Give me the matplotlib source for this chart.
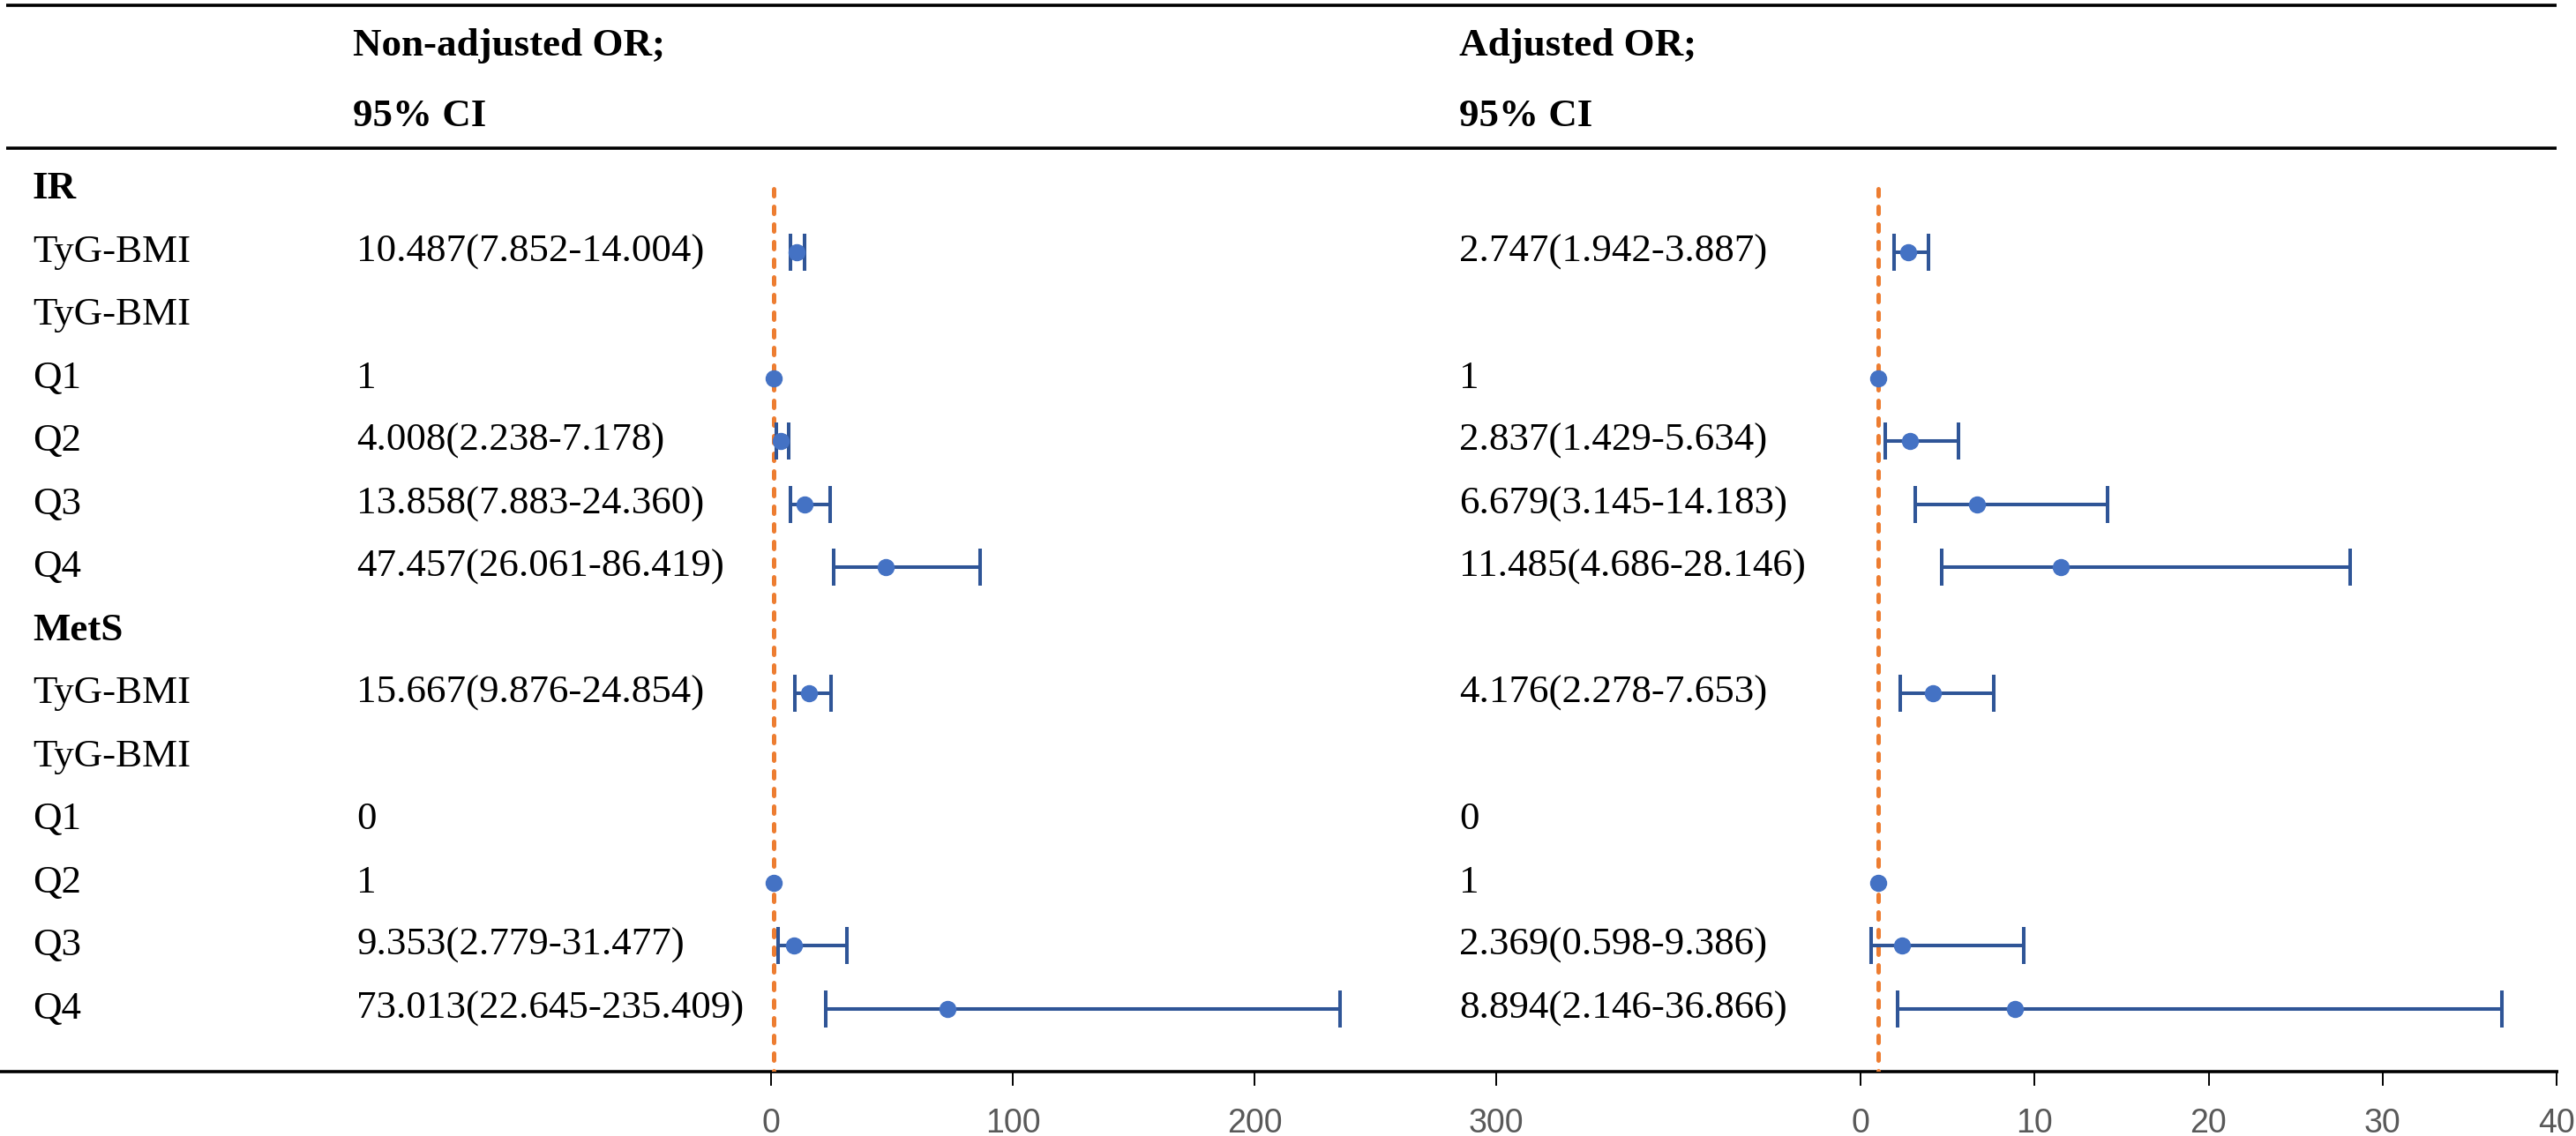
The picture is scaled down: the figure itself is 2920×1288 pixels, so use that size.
import numpy as np
import matplotlib.pyplot as plt

nan = np.nan

# --- data ---
row_labels = ["IR", "TyG-BMI", "TyG-BMI", "Q1", "Q2", "Q3", "Q4",
              "MetS", "TyG-BMI", "TyG-BMI", "Q1", "Q2", "Q3", "Q4"]
bold_rows = [0, 7]  # IR, MetS section headers

crude_text = ["", "10.487(7.852-14.004)", "", "1", "4.008(2.238-7.178)",
              "13.858(7.883-24.360)", "47.457(26.061-86.419)", "",
              "15.667(9.876-24.854)", "", "0", "1", "9.353(2.779-31.477)",
              "73.013(22.645-235.409)"]
adj_text = ["", "2.747(1.942-3.887)", "", "1", "2.837(1.429-5.634)",
            "6.679(3.145-14.183)", "11.485(4.686-28.146)", "",
            "4.176(2.278-7.653)", "", "0", "1", "2.369(0.598-9.386)",
            "8.894(2.146-36.866)"]

or_crude = [nan, 10.487, nan, 1, 4.008, 13.858, 47.457, nan, 15.667, nan, nan, 1, 9.353, 73.013]
lo_crude = [nan, 7.852, nan, nan, 2.238, 7.883, 26.061, nan, 9.876, nan, nan, nan, 2.779, 22.645]
hi_crude = [nan, 14.004, nan, nan, 7.178, 24.360, 86.419, nan, 24.854, nan, nan, nan, 31.477, 235.409]

or_adj = [nan, 2.747, nan, 1, 2.837, 6.679, 11.485, nan, 4.176, nan, nan, 1, 2.369, 8.894]
lo_adj = [nan, 1.942, nan, nan, 1.429, 3.145, 4.686, nan, 2.278, nan, nan, nan, 0.598, 2.146]
hi_adj = [nan, 3.887, nan, nan, 5.634, 14.183, 28.146, nan, 7.653, nan, nan, nan, 9.386, 36.866]

crude_ticks = [0, 100, 200, 300]
adj_ticks = [0, 10, 20, 30, 40]
ref_value = 1

# --- layout (pixels) ---
W, H = 2920, 1288
row0, row_step = 214, 71.5
base_y = 1215
top_y = 168

serif = "Liberation Serif"
fs = 32.4

fig = plt.figure(figsize=(W / 100, H / 100), dpi=100)
bg = fig.add_axes([0, 0, 1, 1])
bg.set_xlim(0, W)
bg.set_ylim(H, 0)
bg.axis("off")

# table lines
for yy in (6, 168):
    bg.plot([7, 2898], [yy, yy], color="black", lw=2.6, solid_capstyle="butt")
bg.plot([0, 2900], [base_y, base_y], color="black", lw=2.6, solid_capstyle="butt", zorder=1)

# headers
for x0, txt in [(400, "Non-adjusted OR;"), (1654, "Adjusted OR;")]:
    bg.text(x0, 63, txt, fontsize=fs, fontweight="bold", family=serif, va="baseline")
    bg.text(x0, 143, "95% CI", fontsize=fs, fontweight="bold", family=serif, va="baseline")

# row texts
for i, lab in enumerate(row_labels):
    yb = row0 + row_step * i + 11
    weight = "bold" if i in bold_rows else "normal"
    bg.text(37, yb, lab, fontsize=fs, fontweight=weight, family=serif, va="baseline")
    bg.text(404, yb, crude_text[i], fontsize=fs, family=serif, va="baseline")
    bg.text(1654, yb, adj_text[i], fontsize=fs, family=serif, va="baseline")

n = len(row_labels)
y_rows = np.arange(n)
y_bottom = (base_y - row0) / row_step
y_top = (top_y - row0) / row_step


def forest(x_px0, x_px1, xmax, vals, lo, hi, ticks):
    ax = fig.add_axes([x_px0 / W, 1 - base_y / H, (x_px1 - x_px0) / W, (base_y - top_y) / H])
    ax.patch.set_alpha(0)
    ax.set_xlim(0, xmax)
    ax.set_ylim(y_bottom, y_top)
    for s in ax.spines.values():
        s.set_visible(False)
    ax.set_yticks([])
    ax.set_xticks(ticks)
    ax.tick_params(axis="x", direction="out", length=11.5, width=1.4, color="black",
                   pad=18, labelsize=27, labelcolor="#595959")
    for t in ax.get_xticklabels():
        t.set_fontfamily("Liberation Sans")

    # reference line at OR = 1
    ax.vlines(ref_value, 0, y_bottom, color="#ED7D31", lw=3.6,
              linestyles=(0, (1.6, 2.4)), capstyle="round", zorder=2)

    vals = np.array(vals)
    lo = np.array(lo)
    hi = np.array(hi)
    m = ~np.isnan(lo)
    ax.errorbar(vals[m], y_rows[m], xerr=[vals[m] - lo[m], hi[m] - vals[m]], fmt="none",
                ecolor="#2F5597", elinewidth=2.9, capsize=15, capthick=2.9, zorder=3)
    ax.plot(vals, y_rows, "o", color="#4472C4", markersize=13, zorder=4, clip_on=False)
    return ax


forest(874, 1970, 400, or_crude, lo_crude, hi_crude, crude_ticks)
forest(2109, 2898, 40, or_adj, lo_adj, hi_adj, adj_ticks)

fig.savefig("out.png", dpi=100)
